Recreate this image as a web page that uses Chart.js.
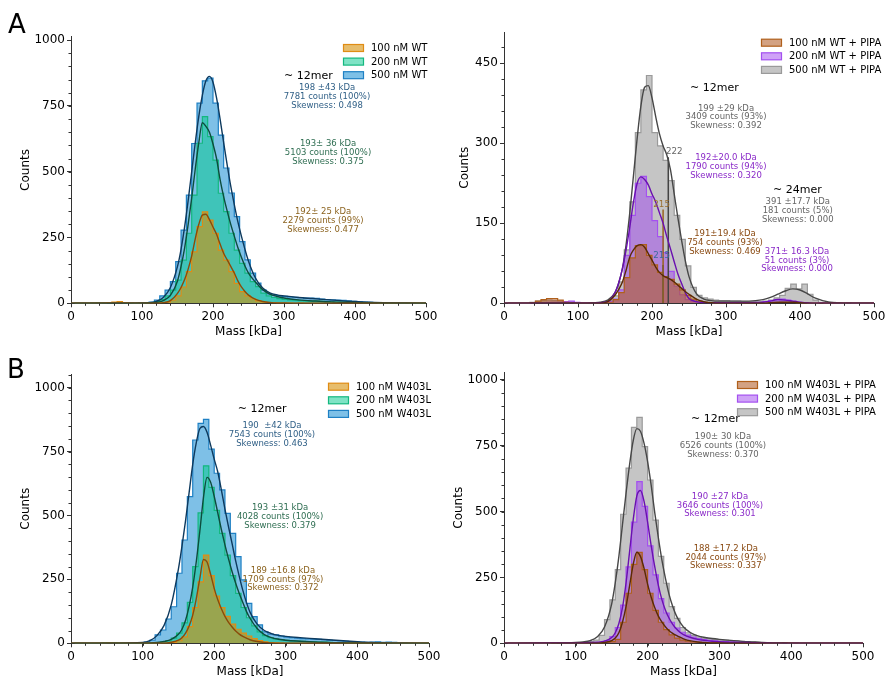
<!DOCTYPE html>
<html>
<head>
<meta charset="utf-8">
<script src="https://cdn.jsdelivr.net/npm/chart.js@4.4.0/dist/chart.umd.min.js"></script>
<style>
  body { margin: 0; background: #fff; }
  #fig { position: relative; width: 889px; height: 680px; font-family: "DejaVu Sans", sans-serif; }
  .panel { position: absolute; }
  .letter { position: absolute; font-size: 26px; line-height: 26px; color: #000; }
</style>
</head>
<body>
<div id="fig">
  <div class="panel" style="left:0;top:0"><canvas id="wt" width="445" height="340"></canvas></div>
  <div class="panel" style="left:445px;top:0"><canvas id="wtPipa" width="444" height="340"></canvas></div>
  <div class="panel" style="left:0;top:340px"><canvas id="mut" width="445" height="340"></canvas></div>
  <div class="panel" style="left:445px;top:340px"><canvas id="mutPipa" width="444" height="340"></canvas></div>
  <div class="letter" style="left:8px;top:11px">A</div>
  <div class="letter" style="left:7px;top:356px">B</div>
</div>
<script>
// histogram bins: 7.5 kDa wide, first edge at 5 kDa
const binStart = 5;
const binWidth = 7.5;

// counts per bin
const histWt100 = [0,0,0,0,0,1,3,5,6,3, 1,0,0,0,0,1,2,4,12,28, 62,120,195,291,347,316,266,202,164,120,
  76,44,28,17,9,5,3,2,1,1, 1,0,1,0,0,0,0,0,0,0, 0,0,0,0,0,0,0,0,0,0, 0,0,0,0,0,0];
const histWt200 = [0,0,0,1,2,1,1,1,2,1, 0,0,1,1,3,6,14,28,50,88, 164,266,411,608,709,633,544,418,348,266,
  202,152,115,82,63,39,28,22,18,15, 13,12,10,9,8,8,7,6,5,5, 4,4,3,3,2,2,2,1,1,0, 1,1,0,1,0,0];
const histWt500 = [0,0,0,0,0,1,1,2,1,1, 1,0,1,2,5,12,28,50,82,158, 278,411,607,760,845,855,760,639,514,419,
  329,234,165,115,77,50,36,31,28,26, 24,23,22,20,20,19,16,14,13,12, 11,9,7,6,5,4,3,2,2,3, 2,1,2,1,1,1];

const histWtPipa100 = [0,0,0,0,1,4,7,9,9,6, 2,1,0,0,0,0,0,0,2,7, 20,48,85,108,110,90,72,58,50,45,
  36,25,15,8,4,2,1,0,0,0, 0,0,0,0,0,0,0,1,1,2, 2,1,0,0,0,0,0,0,0,0, 0,0,0,0,0,0];
const histWtPipa200 = [0,0,0,0,0,1,1,2,2,2, 3,4,2,1,1,1,1,1,3,8, 25,90,165,225,238,200,155,125,95,60,
  32,16,7,3,2,1,1,1,1,1, 1,2,1,1,2,2,3,5,7,8, 6,4,2,1,0,0,1,0,0,0, 0,0,0,0,0,0];
const histWtPipa500 = [0,0,0,0,2,4,5,6,5,4, 3,2,1,1,1,1,1,2,5,14, 40,100,190,320,400,427,320,295,268,230,
  165,120,70,30,15,10,8,6,5,5, 4,4,3,3,3,3,4,6,10,15, 28,36,27,36,17,6,2,1,2,1, 0,1,0,0,0,0];

const histMut100 = [0,0,0,0,0,0,1,0,0,0, 0,0,0,0,0,0,0,0,4,10, 25,65,140,240,345,265,185,140,105,75,
  55,40,28,18,11,6,3,2,1,0, 0,0,0,0,0,0,0,0,0,0, 0,0,0,0,0,0,0,0,0,0, 0,0,0,0,0,0];
const histMut200 = [0,0,0,0,0,2,3,2,1,0, 0,0,0,0,1,2,5,10,20,40, 80,160,300,510,694,610,520,430,345,265,
  195,140,100,68,45,30,22,17,14,12, 10,9,8,7,6,5,5,4,3,3, 2,2,2,1,1,1,0,1,0,0, 0,0,0,0,0,0];
const histMut500 = [0,0,0,0,0,0,1,1,1,2, 1,1,1,5,12,33,52,95,143,274, 404,574,795,860,876,759,665,600,508,430,
  339,248,156,104,72,45,36,33,28,24, 22,20,18,17,16,15,14,12,11,10, 8,7,6,5,4,5,6,4,5,4, 3,2,1,0,0,0];

const histMutPipa100 = [0,0,0,0,0,0,0,0,0,0, 0,0,0,0,0,0,0,0,2,6, 15,80,190,300,345,280,190,125,80,52,
  32,20,12,8,5,4,3,2,2,1, 1,0,0,0,0,0,0,0,0,0, 0,2,1,0,0,0,0,0,0,0, 0,0,0,0,0,0];
const histMutPipa200 = [0,0,0,0,0,0,0,1,3,2, 1,1,1,1,1,2,2,4,10,25, 60,145,290,460,614,520,370,260,170,115,
  80,58,42,31,24,18,14,11,9,7, 6,5,4,4,3,3,2,2,1,1, 1,1,0,1,0,0,0,0,0,0, 0,0,0,0,0,0];
const histMutPipa500 = [0,0,0,0,0,1,1,1,1,2, 2,2,2,3,4,6,12,30,90,165, 280,490,665,820,858,747,620,468,330,228,
  139,95,60,40,30,24,20,17,15,13, 11,10,8,7,6,5,4,3,2,2, 1,1,0,1,0,0,0,0,0,0, 0,0,0,0,0,0];

// fitted curves, read at these masses
const fitMass = [0,60,100,110,120,130,140,150,155,160, 165,170,175,180,185,190,195,200,205,210,
  215,220,225,230,235,240,245,250,260,270, 280,290,300,320,340,350,360,370,380,390, 400,410,420,440,460,500];

const fitWt100 = [0,0,0,0,0,2,10,38,60,90, 130,180,245,300,335,338,318,290,262,225,
  190,165,140,115,85,62,45,31,15,7, 3,1,1,0,0,0,0,0,0,0, 0,0,0,0,0,0];
const fitWt200 = [0,0,0,1,3,10,30,85,140,210, 300,400,510,610,686,672,650,605,550,470,
  405,350,300,255,212,175,142,115,80,52, 35,26,20,13,9,8,6,5,4,4, 3,2,2,1,0,0];
const fitWt500 = [0,0,1,2,7,22,60,140,205,290, 390,500,610,710,790,845,862,840,780,700,
  610,525,445,375,310,255,205,160,95,58, 40,32,28,22,18,16,14,12,10,8, 7,5,4,2,1,0];

const fitWtPipa100 = [0,0,0,0,0,0,3,15,26,40, 62,87,100,108,110,105,93,81,68,58,
  52,48,45,40,34,28,22,17,8,3, 1,0,0,0,0,0,1,2,2,2, 1,0,0,0,0,0];
const fitWtPipa200 = [0,0,0,0,0,1,3,20,38,65, 100,143,190,225,237,232,222,205,190,170,
  150,125,102,78,55,37,20,9,3,1, 1,1,1,1,1,2,4,7,6,4, 2,1,0,0,0,0];
const fitWtPipa500 = [0,0,0,0,1,2,6,20,38,65, 110,170,240,310,370,405,408,385,350,318,
  295,278,250,205,160,118,80,50,18,8, 5,4,4,4,5,7,11,17,23,27, 25,18,10,2,0,0];

const fitMut100 = [0,0,0,0,0,0,4,12,22,40, 68,110,175,255,328,318,270,215,170,135,
  105,82,64,48,36,27,20,14,7,3, 1,0,0,0,0,0,0,0,0,0, 0,0,0,0,0,0];
const fitMut200 = [0,0,0,1,3,7,15,35,55,90, 145,220,320,440,570,649,630,575,510,445,
  385,330,280,235,195,160,125,98,58,34, 22,16,12,8,5,4,3,2,2,1, 1,0,0,0,0,0];
const fitMut500 = [0,0,3,10,30,70,150,290,380,480, 590,700,785,840,848,825,775,720,670,600,
  525,455,390,322,262,207,160,122,75,50, 38,31,27,22,18,16,14,12,10,8, 6,4,3,1,0,0];

const fitMutPipa100 = [0,0,0,0,0,0,3,10,20,40, 80,140,220,300,346,330,285,225,175,135,
  103,80,62,48,38,30,23,17,9,5, 3,1,1,0,0,0,0,0,0,0, 0,0,0,0,0,0];
const fitMutPipa200 = [0,1,1,2,3,4,8,22,40,75, 135,230,350,470,560,580,540,460,370,290,
  220,165,125,95,72,55,42,33,22,15, 11,8,6,4,3,2,1,1,0,0, 0,0,0,0,0,0];
const fitMutPipa500 = [0,1,3,5,10,25,62,150,230,330, 450,570,680,770,815,805,760,690,600,495,
  400,315,245,185,140,105,80,62,40,28, 22,18,15,10,6,5,3,2,1,1, 0,0,0,0,0,0];

// peak markers in the WT + PIPA panel
const markerMass = [215, 215, 222];
const markerTop = [176, 72, 274];

const wtColors = [
  { fill: 'rgba(215,145,10,0.6)', edge: '#e08c14', fit: '#8a4b0a', text: '#8c6420' },
  { fill: 'rgba(0,200,140,0.5)', edge: '#14b87f', fit: '#0d4d3d', text: '#2f6e52' },
  { fill: 'rgba(40,150,215,0.6)', edge: '#1f80c4', fit: '#0e3a5e', text: '#2f5f86' }
];
const pipaColors = [
  { fill: 'rgba(175,85,30,0.55)', edge: '#b0601c', fit: '#5a2a06', text: '#8a4a12' },
  { fill: 'rgba(160,70,240,0.5)', edge: '#a450f0', fit: '#6a10b0', text: '#8a2ac8' },
  { fill: 'rgba(150,150,150,0.55)', edge: '#9a9a9a', fit: '#474747', text: '#666666' }
];

Chart.defaults.font.family = '"DejaVu Sans", sans-serif';
Chart.defaults.color = '#000';

function stepPoints(counts) {
  const pts = counts.map((c, i) => ({ x: binStart + i * binWidth, y: c }));
  pts.push({ x: binStart + counts.length * binWidth, y: 0 });
  return pts;
}
function fitPoints(counts) {
  return fitMass.map((m, i) => ({ x: m, y: counts[i] }));
}

// small outward minor ticks on both axes
const minorTicks = {
  id: 'minorTicks',
  afterDraw(chart, args, opts) {
    const { ctx, scales: { x, y } } = chart;
    ctx.save();
    ctx.strokeStyle = '#333';
    ctx.lineWidth = 1;
    ctx.beginPath();
    for (let v = 0; v <= x.max; v += opts.x) {
      const px = Math.round(x.getPixelForValue(v)) + 0.5;
      ctx.moveTo(px, y.bottom); ctx.lineTo(px, y.bottom + 2.5);
    }
    for (let v = 0; v <= y.max; v += opts.y) {
      const py = Math.round(y.getPixelForValue(v)) + 0.5;
      ctx.moveTo(x.left, py); ctx.lineTo(x.left - 2.5, py);
    }
    ctx.stroke();
    ctx.restore();
  }
};

// matplotlib-like legend inside the axes
const boxLegend = {
  id: 'boxLegend',
  afterDraw(chart, args, opts) {
    const ctx = chart.ctx;
    ctx.save();
    ctx.font = '10px "DejaVu Sans", sans-serif';
    ctx.textBaseline = 'middle';
    ctx.textAlign = 'left';
    opts.items.forEach((it, k) => {
      const cy = opts.y + k * opts.gap;
      ctx.fillStyle = '#fff';
      ctx.fillRect(opts.x, cy - 3.5, 20, 7);
      ctx.fillStyle = it.fill;
      ctx.fillRect(opts.x, cy - 3.5, 20, 7);
      ctx.strokeStyle = it.edge;
      ctx.lineWidth = 1.2;
      ctx.strokeRect(opts.x + 0.5, cy - 3.5, 20, 7);
      ctx.fillStyle = '#000';
      ctx.fillText(it.label, opts.x + 28, cy + 0.5);
    });
    ctx.restore();
  }
};

// text notes placed at (mass, count)
const notes = {
  id: 'notes',
  afterDatasetsDraw(chart, args, opts) {
    const { ctx, scales: { x, y } } = chart;
    ctx.save();
    ctx.textBaseline = 'middle';
    opts.list.forEach(n => {
      ctx.font = (n.size || 8.5) + 'px "DejaVu Sans", sans-serif';
      ctx.fillStyle = n.color;
      ctx.textAlign = n.align || 'center';
      const px = x.getPixelForValue(n.x);
      const py = y.getPixelForValue(n.y);
      n.lines.forEach((t, k) => ctx.fillText(t, px, py + k * 8.7));
    });
    ctx.restore();
  }
};

function makePanel(p) {
  const datasets = [];
  p.series.forEach((s, k) => {
    datasets.push({
      label: s.label, data: stepPoints(s.hist), stepped: 'before', fill: 'origin',
      backgroundColor: s.c.fill, borderColor: s.c.edge, borderWidth: 1.2,
      pointRadius: 0, order: k + 1
    });
    datasets.push({
      label: s.label + ' fit', data: fitPoints(s.fit), fill: false,
      borderColor: s.c.fit, borderWidth: 1.4, pointRadius: 0,
      cubicInterpolationMode: 'monotone', order: 0
    });
  });
  (p.markers || []).forEach(m => {
    datasets.push({
      label: 'peak ' + m.mass, data: [{ x: m.mass, y: 0 }, { x: m.mass, y: m.top }],
      borderColor: m.color, borderWidth: 1.5, pointRadius: 0, fill: false, order: 0
    });
  });

  new Chart(document.getElementById(p.id), {
    type: 'line',
    data: { datasets },
    plugins: [minorTicks, boxLegend, notes],
    options: {
      responsive: false,
      animation: false,
      events: [],
      layout: { padding: { left: 0, right: p.padRight, top: p.padTop, bottom: 0 } },
      plugins: {
        legend: { display: false },
        tooltip: { enabled: false },
        minorTicks: { x: 20, y: p.yMinor },
        boxLegend: {
          x: p.legendX, y: p.legendY, gap: 13.6,
          items: p.series.map(s => ({ label: s.label, fill: s.c.fill, edge: s.c.edge }))
        },
        notes: { list: p.notes }
      },
      scales: {
        x: {
          type: 'linear', min: 0, max: 500,
          border: { display: true, color: '#333', width: 1 },
          grid: { drawOnChartArea: false, drawTicks: true, tickLength: 4, tickColor: '#333' },
          ticks: { stepSize: 100, includeBounds: false, font: { size: 12 }, padding: 2, maxRotation: 0, color: '#000',
                   callback: v => String(v) },
          title: { display: true, text: 'Mass [kDa]', font: { size: 12 }, color: '#000', padding: { top: 0, bottom: 1 } },
          afterFit(s) { s.height = 36.7; }
        },
        y: {
          type: 'linear', min: 0, max: p.yMax,
          border: { display: true, color: '#333', width: 1 },
          grid: { drawOnChartArea: false, drawTicks: true, tickLength: 4, tickColor: '#333' },
          ticks: { font: { size: 12 }, padding: 2, color: '#000', callback: v => String(v) },
          title: { display: true, text: 'Counts', font: { size: 12 }, color: '#000', padding: { top: p.yTitlePad, bottom: 0 } },
          afterBuildTicks(s) {
            const t = [];
            for (let v = 0; v <= s.max; v += p.yStep) t.push({ value: v });
            s.ticks = t;
          },
          afterFit(s) { s.width = p.yWidth; }
        }
      }
    }
  });
}

function stats(x, y, c, lines) { return { x, y, color: c.text, lines }; }
function tag(x, y, text) { return { x, y, color: '#000', size: 11, align: 'left', lines: [text] }; }

makePanel({
  id: 'wt', yMax: 1012.7, yStep: 250, yMinor: 50, padTop: 36.7, padRight: 19, yWidth: 71, yTitlePad: 18.8,
  legendX: 343, legendY: 48,
  series: [
    { label: '100 nM WT', hist: histWt100, fit: fitWt100, c: wtColors[0] },
    { label: '200 nM WT', hist: histWt200, fit: fitWt200, c: wtColors[1] },
    { label: '500 nM WT', hist: histWt500, fit: fitWt500, c: wtColors[2] }
  ],
  notes: [
    tag(300, 863, '~ 12mer'),
    stats(360.6, 817.7, wtColors[2], ['198 ±43 kDa', '7781 counts (100%)', 'Skewness: 0.498']),
    stats(362, 605, wtColors[1], ['193± 36 kDa', '5103 counts (100%)', 'Skewness: 0.375']),
    stats(355, 346.7, wtColors[0], ['192± 25 kDa', '2279 counts (99%)', 'Skewness: 0.477'])
  ]
});

makePanel({
  id: 'wtPipa', yMax: 508, yStep: 150, yMinor: 30, padTop: 32.3, padRight: 15, yWidth: 59, yTitlePad: 12.8,
  legendX: 316, legendY: 42.7,
  series: [
    { label: '100 nM WT + PIPA', hist: histWtPipa100, fit: fitWtPipa100, c: pipaColors[0] },
    { label: '200 nM WT + PIPA', hist: histWtPipa200, fit: fitWtPipa200, c: pipaColors[1] },
    { label: '500 nM WT + PIPA', hist: histWtPipa500, fit: fitWtPipa500, c: pipaColors[2] }
  ],
  markers: [
    { mass: markerMass[0], top: markerTop[0], color: '#9a6420' },
    { mass: markerMass[1], top: markerTop[1], color: '#1f3f5f' },
    { mass: markerMass[2], top: markerTop[2], color: '#444444' }
  ],
  notes: [
    tag(251.4, 403, '~ 12mer'),
    stats(300, 365, pipaColors[2], ['199 ±29 kDa', '3409 counts (93%)', 'Skewness: 0.392']),
    stats(300, 272, pipaColors[1], ['192±20.0 kDa', '1790 counts (94%)', 'Skewness: 0.320']),
    tag(363.5, 212.4, '~ 24mer'),
    stats(397, 190, pipaColors[2], ['391 ±17.7 kDa', '181 counts (5%)', 'Skewness: 0.000']),
    stats(298.6, 130, pipaColors[0], ['191±19.4 kDa', '754 counts (93%)', 'Skewness: 0.469']),
    stats(396, 96.7, pipaColors[1], ['371± 16.3 kDa', '51 counts (3%)', 'Skewness: 0.000']),
    { x: 213, y: 184, color: '#9a7030', size: 8.7, lines: [String(markerMass[0])] },
    { x: 213, y: 90, color: '#3a6a9a', size: 8.7, lines: [String(markerMass[1])] },
    { x: 230, y: 284, color: '#666666', size: 8.7, lines: [String(markerMass[2])] }
  ]
});

makePanel({
  id: 'mut', yMax: 1052, yStep: 250, yMinor: 50, padTop: 34.3, padRight: 16, yWidth: 71, yTitlePad: 18.8,
  legendX: 328, legendY: 46.7,
  series: [
    { label: '100 nM W403L', hist: histMut100, fit: fitMut100, c: wtColors[0] },
    { label: '200 nM W403L', hist: histMut200, fit: fitMut200, c: wtColors[1] },
    { label: '500 nM W403L', hist: histMut500, fit: fitMut500, c: wtColors[2] }
  ],
  notes: [
    tag(233, 916.7, '~ 12mer'),
    stats(280.7, 850, wtColors[2], ['190  ±42 kDa', '7543 counts (100%)', 'Skewness: 0.463']),
    stats(292, 528, wtColors[1], ['193 ±31 kDa', '4028 counts (100%)', 'Skewness: 0.379']),
    stats(296, 284, wtColors[0], ['189 ±16.8 kDa', '1709 counts (97%)', 'Skewness: 0.372'])
  ]
});

makePanel({
  id: 'mutPipa', yMax: 1029, yStep: 250, yMinor: 50, padTop: 32.3, padRight: 26, yWidth: 59, yTitlePad: 6.8,
  legendX: 292, legendY: 45,
  series: [
    { label: '100 nM W403L + PIPA', hist: histMutPipa100, fit: fitMutPipa100, c: pipaColors[0] },
    { label: '200 nM W403L + PIPA', hist: histMutPipa200, fit: fitMutPipa200, c: pipaColors[1] },
    { label: '500 nM W403L + PIPA', hist: histMutPipa500, fit: fitMutPipa500, c: pipaColors[2] }
  ],
  notes: [
    tag(260.4, 852, '~ 12mer'),
    stats(305, 783.5, pipaColors[2], ['190± 30 kDa', '6526 counts (100%)', 'Skewness: 0.370']),
    stats(300.8, 556.8, pipaColors[1], ['190 ±27 kDa', '3646 counts (100%)', 'Skewness: 0.301']),
    stats(309, 359, pipaColors[0], ['188 ±17.2 kDa', '2044 counts (97%)', 'Skewness: 0.337'])
  ]
});
</script>
</body>
</html>
